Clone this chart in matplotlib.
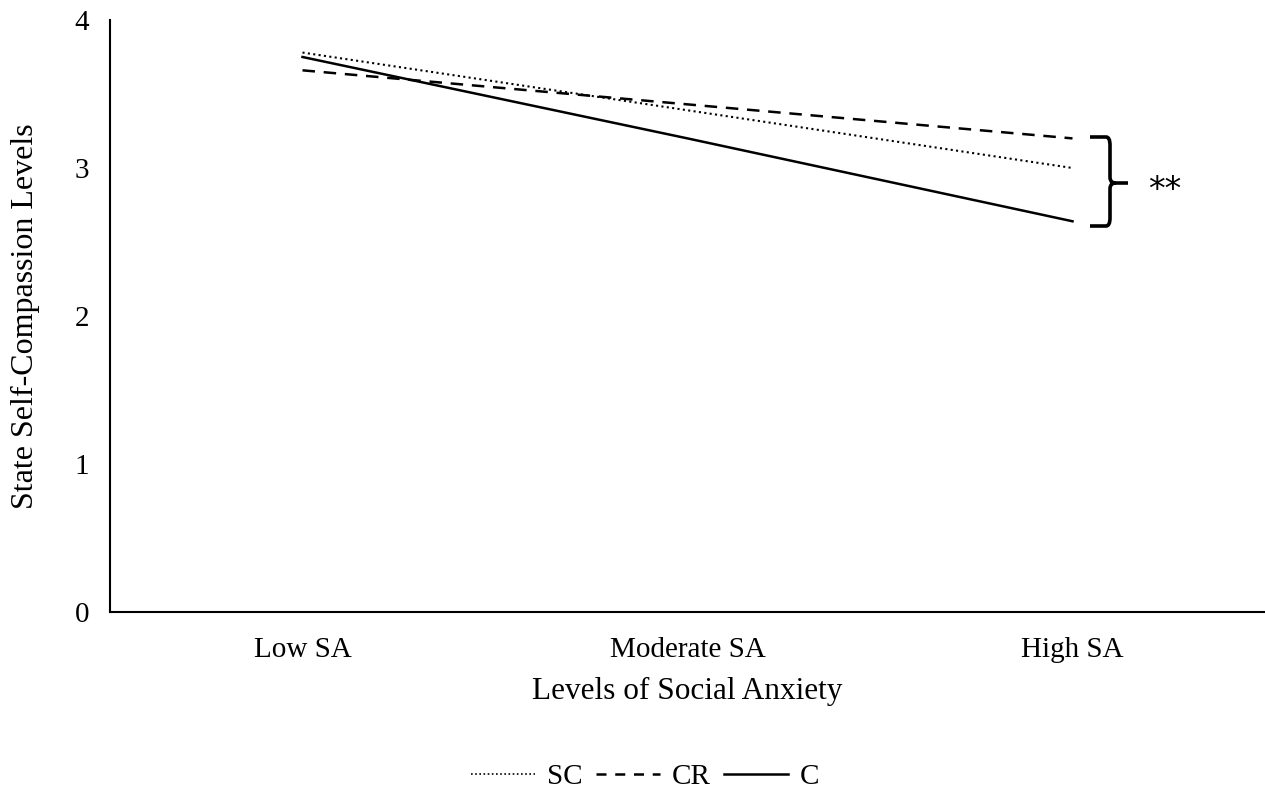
import matplotlib
matplotlib.use("Agg")
import matplotlib.pyplot as plt
from matplotlib.path import Path
from matplotlib.patches import PathPatch
from matplotlib.lines import Line2D

categories = ["Low SA", "Moderate SA", "High SA"]
sc_values = [3.78, 3.39, 3.00]
cr_values = [3.66, 3.43, 3.20]
c_values = [3.75, 3.20, 2.64]
y_ticks = [0, 1, 2, 3, 4]

plt.rcParams['font.family'] = ['Liberation Serif', 'DejaVu Serif']

W, H = 1265, 795
fig = plt.figure(figsize=(W / 100, H / 100), dpi=100)
ax = fig.add_axes([110 / W, 1 - 612 / H, (1265 - 110) / W, (612 - 20) / H])

x = list(range(len(categories)))
dot_style = (0, (1, 1.6))
dash_style = (0, (5, 3.5))
ax.plot(x, sc_values, color='black', lw=1.5, linestyle=dot_style, label='SC')
ax.plot(x, cr_values, color='black', lw=1.8, linestyle=dash_style, label='CR')
ax.plot(x, c_values, color='black', lw=1.8, linestyle='-', label='C')

ax.set_xlim(-0.5, 2.5)
ax.set_ylim(0, 4)
ax.set_xticks(x)
ax.set_xticklabels(categories, fontsize=21)
ax.set_yticks(y_ticks)
ax.set_yticklabels([str(v) for v in y_ticks], fontsize=21)
ax.tick_params(axis='both', length=0)
ax.tick_params(axis='x', pad=18)
ax.tick_params(axis='y', pad=15)
for s in ['top', 'right']:
    ax.spines[s].set_visible(False)
for s in ['left', 'bottom']:
    ax.spines[s].set_linewidth(1.5)

ax.set_xlabel("Levels of Social Anxiety", fontsize=22.5, labelpad=10)
ax.set_ylabel("State Self-Compassion Levels", fontsize=23, labelpad=25)

# brace in pixel coordinates -> figure fraction
def fp(px, py):
    return (px / W, 1 - py / H)

xl, xv, xt = 1090, 1110, 1128
yt, ym, yb = 137, 183, 226
verts = [
    fp(xl, yt), fp(xv - 4, yt), fp(xv, yt), fp(xv, yt + 8),
    fp(xv, ym - 6),
    fp(xv, ym - 1), fp(xv + 3, ym), fp(xv + 6, ym),
    fp(xt, ym),
    fp(xv + 6, ym),
    fp(xv + 3, ym), fp(xv, ym + 1), fp(xv, ym + 6),
    fp(xv, yb - 8),
    fp(xv, yb), fp(xv - 4, yb), fp(xl, yb),
]
codes = [Path.MOVETO, Path.LINETO, Path.CURVE3, Path.CURVE3,
         Path.LINETO,
         Path.CURVE4, Path.CURVE4, Path.CURVE4,
         Path.LINETO,
         Path.MOVETO,
         Path.CURVE4, Path.CURVE4, Path.CURVE4,
         Path.LINETO,
         Path.CURVE3, Path.CURVE3, Path.LINETO]
brace = PathPatch(Path(verts, codes), transform=fig.transFigure,
                  fill=False, lw=2.6, edgecolor='black', capstyle='butt')
fig.add_artist(brace)
fig.text(1165 / W, 1 - 190 / H, "**", fontsize=24, ha='center', va='center',
         family=['DejaVu Sans'])

handles = [
    Line2D([], [], color='black', lw=1.2, linestyle=(0, (1, 1.5))),
    Line2D([], [], color='black', lw=1.8, linestyle=(0, (4, 3.5))),
    Line2D([], [], color='black', lw=1.8, linestyle='-'),
]
fig.legend(handles, ['SC', 'CR', 'C'], loc='center', bbox_to_anchor=(645 / W, 1 - 777 / H),
           ncol=3, frameon=False, fontsize=21, handlelength=2.2, handletextpad=0.4,
           columnspacing=0.45, borderpad=0)

fig.savefig("out.png", dpi=100)
